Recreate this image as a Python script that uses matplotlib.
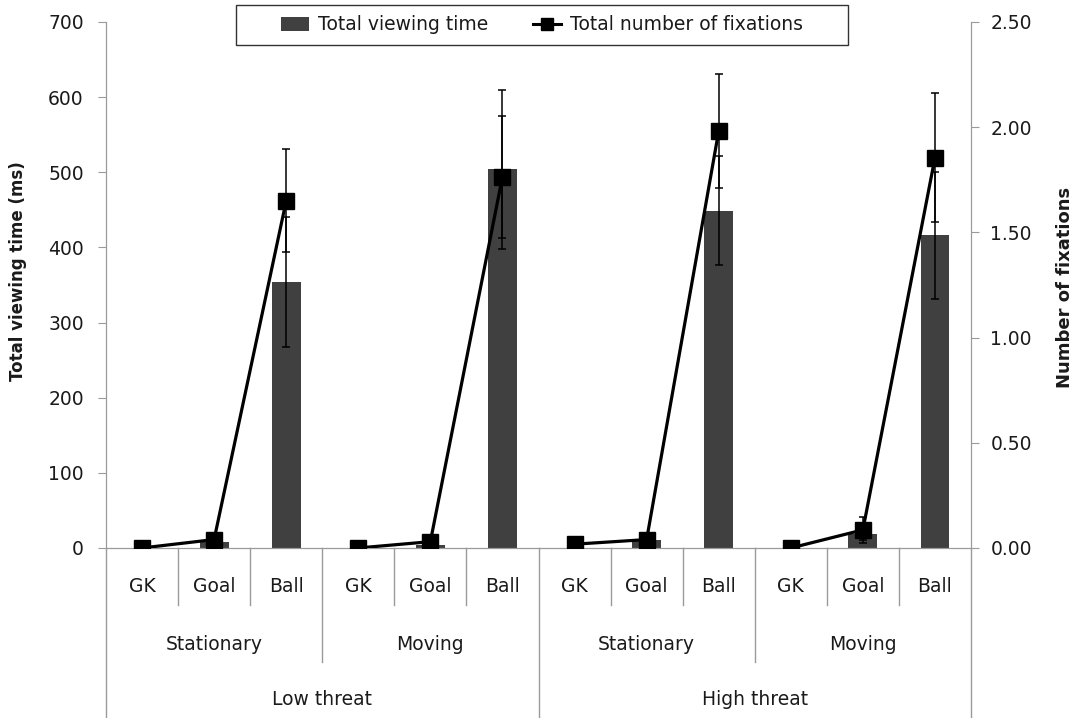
import matplotlib
matplotlib.use("Agg")
import matplotlib.pyplot as plt
import numpy as np
from matplotlib.lines import Line2D
from matplotlib.patches import Patch, Rectangle

plt.rcParams['font.family'] = ['DejaVu Sans']

# ---- data ----
areas = ["GK", "Goal", "Ball"] * 4
conditions = ["Stationary", "Moving", "Stationary", "Moving"]
threats = ["Low threat", "High threat"]

viewing_time = [0, 8, 354, 0, 4, 504, 0, 10, 449, 0, 18, 416]
viewing_err = [0, 0, 86, 0, 0, 106, 0, 0, 72, 0, 8, 84]
fixations = [0.0, 0.04, 1.65, 0.0, 0.03, 1.765, 0.018, 0.04, 1.982, 0.0, 0.086, 1.855]
fix_err = [0, 0, 0.245, 0, 0, 0.29, 0, 0, 0.27, 0, 0.06, 0.307]

left_ticks = [0, 100, 200, 300, 400, 500, 600, 700]
right_ticks = [0.0, 0.5, 1.0, 1.5, 2.0, 2.5]

grey = "#9a9a9a"
txt = "#1a1a1a"
fs = 13.5
fig = plt.figure(figsize=(10.77, 7.18), dpi=100)
ax = fig.add_axes([0.0984, 0.2368, 0.8032, 0.7326])
ax2 = ax.twinx()

x = np.arange(len(areas))
ax.bar(x, viewing_time, width=0.4, color="#404040", zorder=2)
ax.errorbar(x, viewing_time, yerr=viewing_err, fmt="none", ecolor="black",
            elinewidth=1.1, capsize=3, capthick=1.1, zorder=3)
ax.set_xlim(-0.5, len(areas) - 0.5)
ax.set_ylim(0, 700)
ax.set_yticks(left_ticks)
ax.set_yticklabels([str(t) for t in left_ticks], fontsize=fs)
ax.set_ylabel("Total viewing time (ms)", fontsize=12, fontweight="bold",
              color=txt, va="center")
ax.yaxis.set_label_coords(-0.1015, 0.527)

# line drawn separately for each condition group of three areas
for g in range(4):
    sl = slice(3 * g, 3 * g + 3)
    ax2.errorbar(x[sl], fixations[sl], yerr=fix_err[sl], color="black", lw=2.3,
                 marker="s", markersize=11, ecolor="black", elinewidth=1.1,
                 capsize=3, capthick=1.1, zorder=4)
ax2.set_ylim(0, 2.5)
ax2.set_yticks(right_ticks)
ax2.set_yticklabels([f"{t:.2f}" for t in right_ticks], fontsize=fs)
ax2.set_ylabel("Number of fixations", fontsize=13, fontweight="bold",
               rotation=90, color=txt, va="center")
ax2.yaxis.set_label_coords(1.1085, 0.496)

for a in (ax, ax2):
    a.spines['top'].set_visible(False)
    for s in ('left', 'right', 'bottom'):
        a.spines[s].set_color(grey)
    a.tick_params(axis='y', colors=grey, labelcolor=txt, length=6, direction='out')
ax.tick_params(axis='y', pad=10)
ax2.tick_params(axis='y', pad=8)
ax.tick_params(axis='x', bottom=False, labelbottom=False)

# multi-level category axis
tr = ax.get_xaxis_transform()
def y_ax(py):
    return (548 - py) / 526.0

for i in range(len(areas)):
    ax.text(i, y_ax(587), areas[i], transform=tr, ha="center", va="center",
            fontsize=fs, color=txt)
for j, c in enumerate(conditions):
    ax.text(3 * j + 1, y_ax(645), c, transform=tr, ha="center", va="center",
            fontsize=fs, color=txt)
for k, t in enumerate(threats):
    ax.text(6 * k + 2.5, y_ax(700), t, transform=tr, ha="center", va="center",
            fontsize=fs, color=txt)

for b in range(len(areas) + 1):
    xb = b - 0.5
    if b % 6 == 0:
        yb = y_ax(718)
    elif b % 3 == 0:
        yb = y_ax(662)
    else:
        yb = y_ax(605)
    ax.plot([xb, xb], [0, yb], transform=tr, color=grey, lw=1, clip_on=False)

# legend with a manually sized frame
W, H = 1077.0, 718.0
fig.patches.append(Rectangle((236 / W, 1 - 45 / H), (848 - 236) / W, 40 / H,
                             transform=fig.transFigure, facecolor="white",
                             edgecolor="#333333", lw=1.0, zorder=5))
handles = [Patch(facecolor="#404040", edgecolor="none"),
           Line2D([0], [0], color="black", lw=2.2, marker="s", markersize=9)]
leg = fig.legend(handles, ["Total viewing time", "Total number of fixations"],
                 loc="center", bbox_to_anchor=(542 / W, 1 - 25 / H), ncol=2,
                 fontsize=fs, frameon=False, handlelength=1.5,
                 handletextpad=0.5, columnspacing=2.35, borderpad=0,
                 borderaxespad=0)
leg.set_zorder(6)
for t in leg.get_texts():
    t.set_color(txt)

fig.savefig("out.png", dpi=100)
